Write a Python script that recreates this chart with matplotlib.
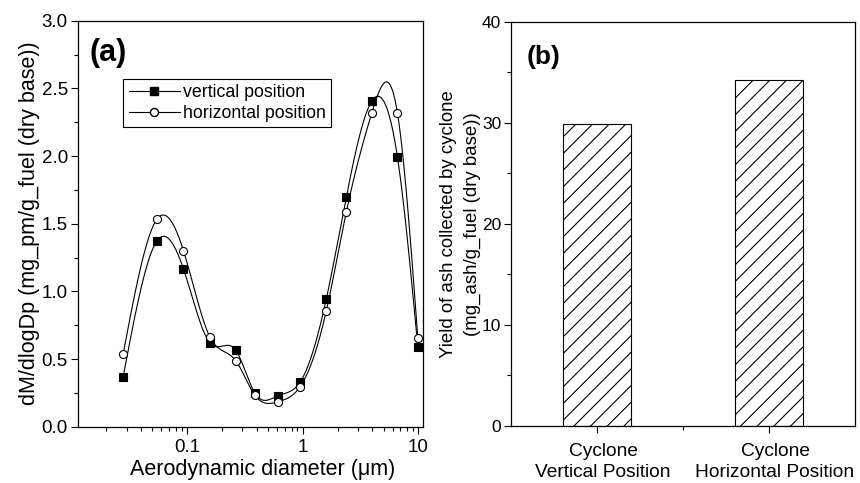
import numpy as np
import matplotlib
matplotlib.use("Agg")
import matplotlib.pyplot as plt
from matplotlib.lines import Line2D
from matplotlib.transforms import ScaledTranslation
from matplotlib.ticker import FixedLocator, LogLocator, NullFormatter, FuncFormatter

plt.rcParams["font.family"] = ["Liberation Sans", "DejaVu Sans"]
plt.rcParams["hatch.linewidth"] = 0.8

# particle size distribution (ELPI stages)
dp = [0.028, 0.055, 0.093, 0.157, 0.263, 0.384, 0.616, 0.95, 1.6, 2.38, 3.95, 6.6, 9.9]
vertical = [0.37, 1.375, 1.165, 0.62, 0.565, 0.25, 0.23, 0.33, 0.945, 1.695, 2.405, 1.99, 0.587]
horizontal = [0.54, 1.535, 1.30, 0.665, 0.488, 0.234, 0.185, 0.296, 0.857, 1.585, 2.316, 2.316, 0.653]

# cyclone ash yield
positions = ["Cyclone\nVertical Position", "Cyclone\nHorizontal Position"]
ash_yield = [29.9, 34.2]


def spline(xs, ys, n=500):
    # natural cubic spline, evaluated in log10(dp)
    xs = np.asarray(xs, float)
    ys = np.asarray(ys, float)
    m = len(xs)
    h = np.diff(xs)
    A = np.zeros((m, m))
    r = np.zeros(m)
    A[0, 0] = A[-1, -1] = 1
    for i in range(1, m - 1):
        A[i, i - 1] = h[i - 1]
        A[i, i] = 2 * (h[i - 1] + h[i])
        A[i, i + 1] = h[i]
        r[i] = 3 * ((ys[i + 1] - ys[i]) / h[i] - (ys[i] - ys[i - 1]) / h[i - 1])
    c = np.linalg.solve(A, r)
    b = (ys[1:] - ys[:-1]) / h - h * (2 * c[:-1] + c[1:]) / 3
    d = (c[1:] - c[:-1]) / (3 * h)
    t = np.linspace(xs[0], xs[-1], n)
    k = np.clip(np.searchsorted(xs, t) - 1, 0, m - 2)
    dt = t - xs[k]
    return t, ys[k] + b[k] * dt + c[k] * dt ** 2 + d[k] * dt ** 3


fig = plt.figure(figsize=(8.6, 4.83), dpi=100)
ax1 = fig.add_axes([0.0903, 0.1166, 0.4012, 0.8406])
ax2 = fig.add_axes([0.5942, 0.118, 0.400, 0.837])

for ax in (ax1, ax2):
    ax.tick_params(which="major", direction="out", length=5, width=0.8, pad=2)
    ax.tick_params(which="minor", direction="out", length=2.8, width=0.8)
    ax.tick_params(top=False, right=False, which="both")
    for s in ax.spines.values():
        s.set_linewidth(0.9)

# ---- (a) size distribution
logd = np.log10(dp)
for vals, mk, fc in [(vertical, "s", "black"), (horizontal, "o", "white")]:
    t, y = spline(logd, vals)
    ax1.plot(10 ** t, y, color="black", lw=0.8, zorder=2)
    ax1.plot(dp, vals, ls="none", marker=mk, ms=5.8 if mk == "o" else 5.3,
             mfc=fc, mec="black", mew=0.8, zorder=3)

ax1.set_xscale("log")
ax1.set_xlim(0.0113, 10.9)
ax1.set_ylim(0, 3.0)
ax1.xaxis.set_major_locator(FixedLocator([0.1, 1, 10]))
ax1.xaxis.set_major_formatter(FuncFormatter(lambda v, p: f"{v:g}"))
ax1.xaxis.set_minor_locator(LogLocator(base=10, subs=np.arange(2, 10)))
ax1.xaxis.set_minor_formatter(NullFormatter())
ax1.set_yticks(np.arange(0, 3.01, 0.5))
ax1.set_yticks(np.arange(0.25, 3.0, 0.5), minor=True)
ax1.yaxis.set_major_formatter(FuncFormatter(lambda v, p: f"{v:.1f}"))
ax1.tick_params(axis="both", which="major", labelsize=13.5)
ax1.tick_params(axis="x", which="major", pad=4)
ax1.set_xlabel("Aerodynamic diameter (\u03bcm)", fontsize=15.5, labelpad=2)
ax1.xaxis.label.set_x(0.536)
ax1.set_ylabel("dM/dlogDp (mg_pm/g_fuel (dry base))", fontsize=15.5, labelpad=1)
ax1.text(0.034, 0.957, "(a)", transform=ax1.transAxes, fontsize=22,
         fontweight="bold", ha="left", va="top")

handles = [
    Line2D([], [], color="black", lw=0.8, marker="s", ms=5.3, mfc="black", mec="black"),
    Line2D([], [], color="black", lw=0.8, marker="o", ms=5.8, mfc="white", mec="black"),
]
leg = ax1.legend(handles, ["vertical position", "horizontal position"],
                 loc="upper left", bbox_to_anchor=(0.132, 0.856), borderaxespad=0,
                 fontsize=12.8, handlelength=2.9, handletextpad=0.15,
                 labelspacing=0.2, borderpad=0.3, fancybox=False, framealpha=1)
leg.get_frame().set_edgecolor("black")
leg.get_frame().set_linewidth(0.8)

# ---- (b) cyclone ash
xpos = np.arange(1, len(ash_yield) + 1)
ax2.bar(xpos, ash_yield, width=0.40, color="white", edgecolor="black",
        linewidth=0.8, hatch="//")
ax2.set_xlim(0.5, 2.5)
ax2.set_ylim(0, 40)
ax2.set_xticks(xpos)
ax2.set_xticklabels(positions, linespacing=1.3)
ax2.set_xticks([1.5], minor=True)
ax2.set_yticks(np.arange(0, 41, 10))
ax2.set_yticks(np.arange(5, 40, 10), minor=True)
ax2.tick_params(axis="y", which="major", labelsize=12.5)
ax2.tick_params(axis="x", which="major", labelsize=13.8, pad=7)
shift = ScaledTranslation(6 / 100, 0, fig.dpi_scale_trans)
for lbl in ax2.get_xticklabels():
    lbl.set_transform(lbl.get_transform() + shift)
ax2.set_ylabel("Yield of ash collected by cyclone\n(mg_ash/g_fuel (dry base))",
               fontsize=13.4, labelpad=1, linespacing=1.45)
ax2.text(0.044, 0.942, "(b)", transform=ax2.transAxes, fontsize=19,
         fontweight="bold", ha="left", va="top")

fig.savefig("out.png", dpi=100)
